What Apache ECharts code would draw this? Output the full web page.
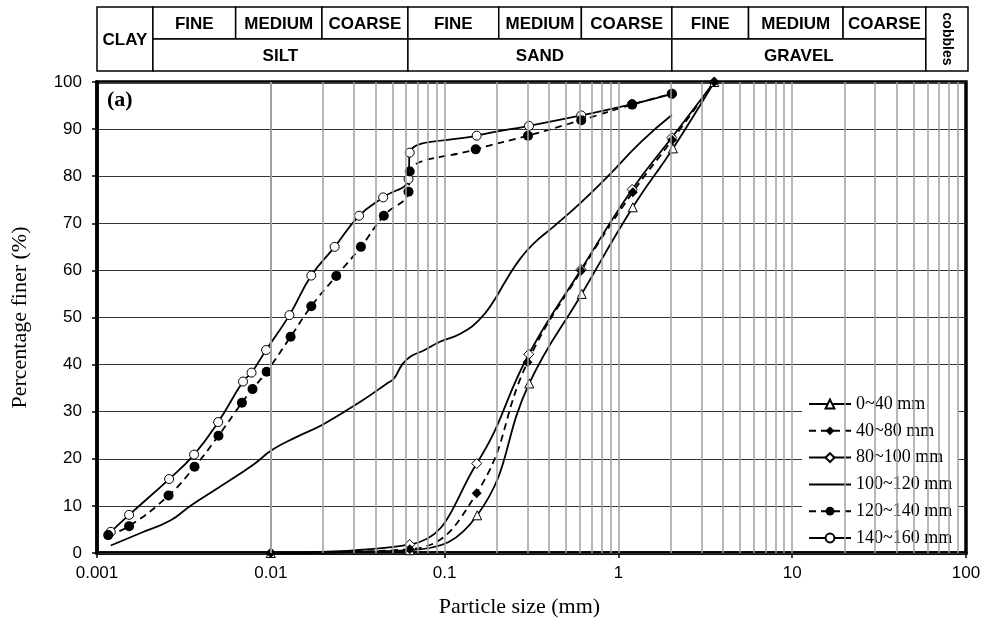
<!DOCTYPE html>
<html><head><meta charset="utf-8">
<script src="https://cdn.jsdelivr.net/npm/echarts@6/dist/echarts.min.js"></script>
<style>html,body{margin:0;padding:0;background:#fff}#c{width:986px;height:625px}</style>
</head><body><div id="c"></div>
<script>
// ---- data ----
const seriesNames = ['0~40 mm', '40~80 mm', '80~100 mm', '100~120 mm', '120~140 mm', '140~160 mm'];

const size_0_40 = [0.01, 0.063, 0.154, 0.307, 0.615, 1.21, 2.06, 3.56];
const pct_0_40  = [0, 0.6, 8.0, 36.0, 55.0, 73.4, 85.9, 100];

const size_40_80 = [0.01, 0.063, 0.153, 0.30, 0.61, 1.21, 2.04, 3.56];
const pct_40_80  = [0, 0.8, 12.7, 40.5, 59.9, 76.6, 87.7, 100];

const size_80_100 = [0.01, 0.063, 0.153, 0.305, 0.61, 1.2, 2.03, 3.56];
const pct_80_100  = [0, 1.8, 19.0, 42.2, 60.2, 77.2, 88.2, 100];

const size_100_120 = [0.0012, 0.00177, 0.00264, 0.00344, 0.00512, 0.00796, 0.0102, 0.0142, 0.0202, 0.0343, 0.0466, 0.051, 0.057, 0.0637, 0.0758, 0.0948, 0.124, 0.158, 0.188, 0.229, 0.274, 0.327, 0.427, 0.608, 0.866, 1.35, 2.03];
const pct_100_120  = [1.6, 4.2, 6.9, 10.0, 14.1, 18.8, 21.9, 24.7, 27.4, 32.6, 36.0, 37.0, 40.0, 41.7, 43.0, 44.9, 46.6, 49.5, 53.0, 58.3, 62.6, 65.8, 69.4, 74.4, 79.9, 87.3, 93.0];

const size_120_140 = [0.00116, 0.00153, 0.00258, 0.00364, 0.005, 0.00682, 0.00785, 0.00946, 0.013, 0.0171, 0.0238, 0.033, 0.0447, 0.062, 0.063, 0.151, 0.302, 0.611, 1.2, 2.03];
const pct_120_140  = [3.8, 5.7, 12.2, 18.3, 24.9, 31.9, 34.8, 38.5, 45.9, 52.4, 58.8, 65.0, 71.6, 76.7, 81.0, 85.7, 88.6, 91.9, 95.2, 97.5];

const size_140_160 = [0.0012, 0.00153, 0.0026, 0.00362, 0.00498, 0.00692, 0.00775, 0.0094, 0.0128, 0.0171, 0.0233, 0.0322, 0.0443, 0.062, 0.063, 0.153, 0.306, 0.611, 1.2, 2.03];
const pct_140_160  = [4.5, 8.1, 15.7, 20.9, 27.8, 36.4, 38.3, 43.1, 50.5, 58.9, 65.0, 71.6, 75.5, 79.4, 85.0, 88.6, 90.7, 92.9, 95.3, 97.5];

const xTickValues = [0.001, 0.01, 0.1, 1, 10, 100];
const xTickLabels = ['0.001', '0.01', '0.1', '1', '10', '100'];
const gridDecades = [0.001, 0.01, 0.1, 1, 10];
const gridMultipliers = [1, 2, 3, 4, 5, 6, 7, 8, 9];

// header (soil classification) boundaries in mm
const headerBounds = [0.001, 0.0021, 0.0063, 0.0198, 0.062, 0.207, 0.62, 2.06, 5.7, 20, 60, 105];
const subLabels = ['FINE', 'MEDIUM', 'COARSE', 'FINE', 'MEDIUM', 'COARSE', 'FINE', 'MEDIUM', 'COARSE'];
const classLabels = ['CLAY', 'SILT', 'SAND', 'GRAVEL', 'cobbles'];

// ---- build ----
const zip = (a, b) => a.map((v, i) => [v, b[i]]);
const gridValues = [];
gridDecades.forEach(d => gridMultipliers.forEach(m => { const v = +(d * m).toPrecision(3); if (v > 0.001 && v < 100) gridValues.push(v); }));

// header boxes: [x0, x1, y0, y1]
const headerBoxes = [];
const headerTexts = [];
headerBoxes.push([headerBounds[0], headerBounds[1], 0, 2]); headerTexts.push({t: classLabels[0], v: false});
for (let i = 0; i < 9; i++) {
  headerBoxes.push([headerBounds[i + 1], headerBounds[i + 2], 1, 2]); headerTexts.push({t: subLabels[i], v: false});
}
for (let j = 0; j < 3; j++) {
  headerBoxes.push([headerBounds[1 + 3 * j], headerBounds[4 + 3 * j], 0, 1]); headerTexts.push({t: classLabels[1 + j], v: false});
}
headerBoxes.push([headerBounds[10], headerBounds[11], 0, 2]); headerTexts.push({t: classLabels[4], v: true});

const serif = '"Liberation Serif", "Times New Roman", serif';
const sans = '"Liberation Sans", Arial, sans-serif';

function lineSeries(name, sizes, pcts, opts) {
  return Object.assign({
    name, type: 'line', xAxisIndex: 0, yAxisIndex: 0,
    data: zip(sizes, pcts),
    smooth: 0.45,
    lineStyle: { color: '#000', width: 1.8, type: 'solid' },
    itemStyle: { color: '#fff', borderColor: '#000', borderWidth: 1 },
    symbolSize: 9,
    showAllSymbol: true,
    z: 3
  }, opts);
}

const dashed = { color: '#000', width: 1.8, type: [7, 5] };

const legendData = seriesNames.map(n => n === '100~120 mm'
  ? { name: n, itemStyle: { color: 'rgba(0,0,0,0)', borderColor: 'rgba(0,0,0,0)', borderWidth: 0, opacity: 0 } }
  : { name: n });

const chart = echarts.init(document.getElementById('c'), null, { renderer: 'canvas' });
chart.setOption({
  animation: false,
  backgroundColor: '#fff',
  textStyle: { fontFamily: sans },
  grid: [
    { left: 97, right: 20, top: 82, bottom: 72, show: true, borderColor: '#000', borderWidth: 3.5, backgroundColor: 'transparent' },
    { left: 97, right: 18, top: 7, height: 64, show: false }
  ],
  xAxis: [
    {
      type: 'log', logBase: 10, min: 0.001, max: 100, gridIndex: 0,
      name: 'Particle size (mm)', nameLocation: 'middle', nameGap: 43,
      nameTextStyle: { fontFamily: serif, fontSize: 22, color: '#000', padding: [0, 24, 0, 0] },
      axisLine: { show: true, lineStyle: { color: '#000', width: 3.5 } },
      axisTick: { show: true, length: 5, lineStyle: { color: '#000', width: 1.5 } },
      axisLabel: { fontFamily: sans, fontSize: 17, color: '#000', margin: 12,
        formatter: v => { const i = xTickValues.findIndex(t => Math.abs(t - v) / t < 1e-6); return i >= 0 ? xTickLabels[i] : ''; } },
      splitLine: { show: false }, minorTick: { show: false }
    },
    { type: 'log', logBase: 10, min: 0.001, max: 105, gridIndex: 1, show: false }
  ],
  yAxis: [
    {
      type: 'value', min: 0, max: 100, interval: 10, gridIndex: 0, z: 1.5,
      name: 'Percentage finer (%)', nameLocation: 'middle', nameGap: 66,
      nameTextStyle: { fontFamily: serif, fontSize: 22, color: '#000' },
      axisLine: { show: true, lineStyle: { color: '#000', width: 3.5 } },
      axisTick: { show: true, length: 5, lineStyle: { color: '#000', width: 1.5 } },
      axisLabel: { fontFamily: sans, fontSize: 17, color: '#000', margin: 15 },
      splitLine: { show: true, lineStyle: { color: '#333', width: 1 } }
    },
    { type: 'value', min: 0, max: 2, gridIndex: 1, show: false }
  ],
  legend: {
    data: legendData,
    orient: 'vertical', left: 802, top: 388,
    backgroundColor: '#fff',
    padding: [7, 6, 4, 6],
    itemWidth: 42, itemHeight: 11, itemGap: 8.8, itemTextGap: 3,
    textStyle: { fontFamily: serif, fontSize: 18, color: '#000', lineHeight: 18 },
    selectedMode: false
  },
  graphic: [
    { type: 'text', left: 107, top: 89, z: 10, style: { text: '(a)', font: 'bold 22px ' + serif, fill: '#000' } }
  ],
  series: [
    {
      name: 'gridlines', type: 'line', data: [], z: 1, silent: true,
      markLine: {
        silent: true, symbol: 'none', label: { show: false },
        lineStyle: { color: '#a0a0a0', width: 1.5, type: 'solid' },
        emphasis: { disabled: true },
        data: gridValues.map(v => ({ xAxis: v }))
      }
    },
    lineSeries('140~160 mm', size_140_160, pct_140_160, { symbol: 'circle', symbolSize: 9 }),
    lineSeries('80~100 mm', size_80_100, pct_80_100, { symbol: 'diamond', symbolSize: 10 }),
    lineSeries('0~40 mm', size_0_40, pct_0_40, { symbol: 'triangle', symbolSize: 9 }),
    lineSeries('100~120 mm', size_100_120, pct_100_120, { symbol: 'none', showSymbol: false, smooth: 0.5 }),
    lineSeries('120~140 mm', size_120_140, pct_120_140, { symbol: 'circle', symbolSize: 10, lineStyle: dashed, itemStyle: { color: '#000', borderColor: '#000', borderWidth: 0 } }),
    lineSeries('40~80 mm', size_40_80, pct_40_80, { symbol: 'diamond', symbolSize: 10, lineStyle: dashed, itemStyle: { color: '#000', borderColor: '#000', borderWidth: 0 } }),
    {
      name: 'header', type: 'custom', xAxisIndex: 1, yAxisIndex: 1, silent: true,
      data: headerBoxes,
      renderItem: function (params, api) {
        const p0 = api.coord([api.value(0), api.value(3)]);
        const p1 = api.coord([api.value(1), api.value(2)]);
        const info = headerTexts[params.dataIndex];
        const cx = (p0[0] + p1[0]) / 2, cy = (p0[1] + p1[1]) / 2;
        const children = [
          { type: 'rect', shape: { x: p0[0], y: p0[1], width: p1[0] - p0[0], height: p1[1] - p0[1] },
            style: { fill: '#fff', stroke: '#000', lineWidth: 1.5 } }
        ];
        if (info.v) {
          children.push({ type: 'text', x: cx, y: cy, rotation: -Math.PI / 2,
            style: { text: info.t, x: 0, y: 0, align: 'center', verticalAlign: 'middle', font: 'bold 14px ' + sans, fill: '#000' } });
        } else {
          children.push({ type: 'text', x: cx, y: cy + 1,
            style: { text: info.t, x: 0, y: 0, align: 'center', verticalAlign: 'middle', font: 'bold 17px ' + sans, fill: '#000' } });
        }
        return { type: 'group', children };
      }
    }
  ]
});
</script></body></html>
